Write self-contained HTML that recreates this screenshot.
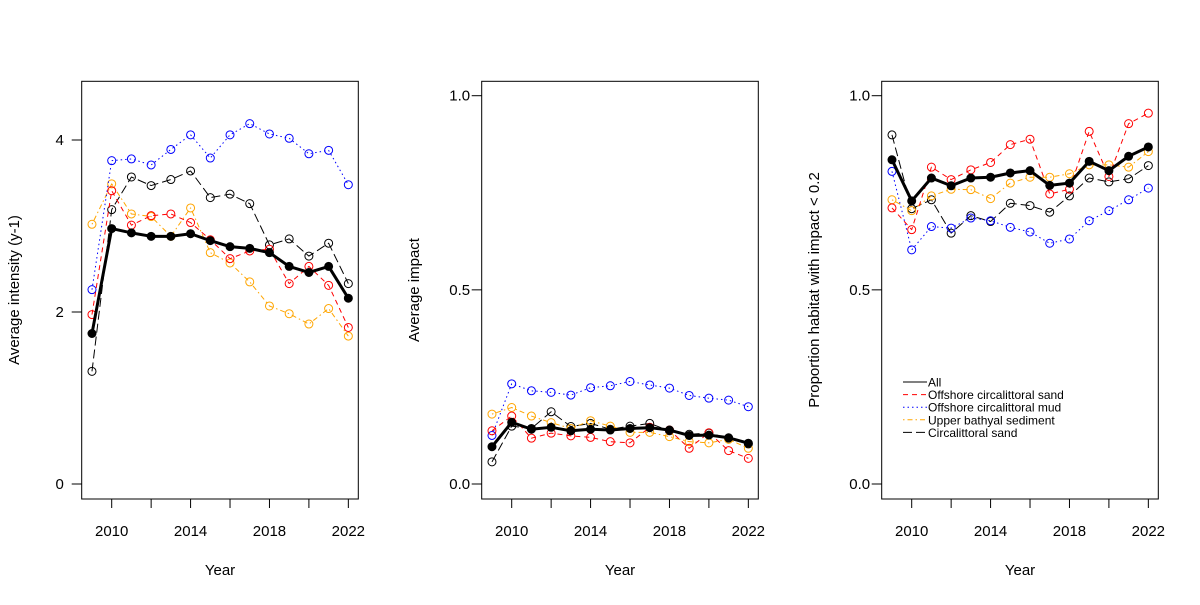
<!DOCTYPE html>
<html><head><meta charset="utf-8"><style>
body{margin:0;background:#fff}
svg text{font-family:"Liberation Sans",Arial,sans-serif;fill:#000}
</style></head><body>
<svg id="chart" width="1200" height="600" viewBox="0 0 1200 600" xmlns="http://www.w3.org/2000/svg"></svg>
<script>
const years=[2009,2010,2011,2012,2013,2014,2015,2016,2017,2018,2019,2020,2021,2022];
const xTicks=[2010,2012,2014,2016,2018,2020,2022];
const xTickLabels=["2010","","2014","","2018","","2022"];
const seriesNames=["All","Offshore circalittoral sand","Offshore circalittoral mud","Upper bathyal sediment","Circalittoral sand"];
// Panel 1: intensity
const p1All=[1.75,2.97,2.92,2.88,2.88,2.91,2.83,2.76,2.74,2.69,2.53,2.46,2.53,2.16];
const p1Sand=[1.97,3.41,3.01,3.12,3.14,3.04,2.84,2.62,2.71,2.73,2.33,2.53,2.31,1.82];
const p1Mud=[2.26,3.76,3.78,3.71,3.89,4.06,3.79,4.06,4.19,4.07,4.02,3.84,3.88,3.48];
const p1Bathyal=[3.02,3.49,3.14,3.11,2.88,3.21,2.69,2.57,2.35,2.07,1.98,1.86,2.04,1.72];
const p1Circ=[1.31,3.19,3.57,3.47,3.54,3.64,3.33,3.37,3.26,2.78,2.85,2.65,2.80,2.33];
const p1YTicks=[0,2,4];
// Panel 2: impact
const p2All=[0.096,0.159,0.141,0.146,0.137,0.141,0.139,0.143,0.145,0.139,0.125,0.126,0.119,0.105];
const p2Sand=[0.137,0.175,0.118,0.131,0.124,0.120,0.109,0.106,0.146,0.139,0.092,0.132,0.086,0.066];
const p2Mud=[0.125,0.258,0.240,0.236,0.229,0.248,0.253,0.264,0.255,0.247,0.228,0.221,0.216,0.199];
const p2Bathyal=[0.180,0.197,0.175,0.158,0.143,0.163,0.149,0.133,0.133,0.122,0.109,0.106,0.115,0.092];
const p2Circ=[0.057,0.149,0.143,0.186,0.148,0.156,0.141,0.149,0.156,0.137,0.128,0.131,0.118,0.103];
const p2YTicks=[0,0.5,1.0];
const p2YTickLabels=["0.0","0.5","1.0"];
// Panel 3: proportion
const p3All=[0.835,0.729,0.788,0.768,0.788,0.790,0.801,0.807,0.769,0.775,0.831,0.807,0.844,0.868];
const p3Sand=[0.711,0.655,0.816,0.784,0.809,0.828,0.874,0.888,0.747,0.759,0.908,0.792,0.928,0.955];
const p3Mud=[0.805,0.603,0.663,0.659,0.685,0.678,0.661,0.649,0.620,0.631,0.678,0.704,0.732,0.762];
const p3Bathyal=[0.732,0.704,0.742,0.759,0.758,0.735,0.775,0.790,0.790,0.799,0.822,0.822,0.816,0.856];
const p3Circ=[0.899,0.709,0.732,0.646,0.691,0.676,0.723,0.717,0.700,0.742,0.788,0.778,0.786,0.820];

const NS="http://www.w3.org/2000/svg";
const svg=document.getElementById('chart');
function mk(tag,attrs,parent){const e=document.createElementNS(NS,tag);for(const k in attrs)e.setAttribute(k,attrs[k]);(parent||svg).appendChild(e);return e;}
const styles=[
 {color:"#000",w:3,dash:"",fill:"#000",r:4},
 {color:"#ff0000",w:1,dash:"5,4",fill:"none",r:4},
 {color:"#0000ff",w:1,dash:"1.5,3",fill:"none",r:4},
 {color:"#ffa500",w:1,dash:"1.5,3,5,3",fill:"none",r:4},
 {color:"#000",w:1,dash:"9,4",fill:"none",r:4}
];
function panel(off,yMin,yScale,data,yTicks,yLabels,ylab,name){
  const g=mk('g',{});
  
  
  const L=81.7+off,R=358.3+off,T=81.3,B=499;
  const x=v=>111.7+off+(v-2010)*19.72;
  const y=v=>484-v*yScale;
  const box=mk('rect',{x:L,y:T,width:R-L,height:B-T,fill:'none',stroke:'#000','stroke-width':1},g);
  
  
  xTicks.forEach((t,i)=>{
    mk('line',{x1:x(t),x2:x(t),y1:B,y2:B+9,stroke:'#000'},g);
    if(xTickLabels[i]){const tx=mk('text',{x:x(t),y:536,'text-anchor':'middle','font-size':15},g);tx.textContent=xTickLabels[i];
      }
  });
  yTicks.forEach((t,i)=>{
    mk('line',{x1:L-10,x2:L,y1:y(t),y2:y(t),stroke:'#000'},g);
    const tx=mk('text',{x:L-22,y:y(t)+5,'text-anchor':'middle','font-size':15},g);tx.textContent=yLabels[i];
    
  });
  const xt=mk('text',{x:(L+R)/2,y:575,'text-anchor':'middle','font-size':15},g);xt.textContent='Year';
  
  const yt=mk('text',{x:0,y:0,'text-anchor':'middle','font-size':15,transform:`translate(${off+19},290) rotate(-90)`},g);yt.textContent=ylab;
  
  for(let s=data.length-1;s>=0;s--){
    const st=styles[s],vals=data[s];
    const pl=mk('polyline',{points:vals.map((v,i)=>x(years[i])+','+y(v)).join(' '),fill:'none',stroke:st.color,'stroke-width':st.w,'stroke-dasharray':st.dash,'stroke-linejoin':'round'},g);
    
    vals.forEach((v,i)=>{const c=mk('circle',{cx:x(years[i]),cy:y(v),r:st.r,fill:st.fill,stroke:st.color,'stroke-width':1},g);
      });
  }
  return g;
}
panel(0,0,86,[p1All,p1Sand,p1Mud,p1Bathyal,p1Circ],p1YTicks,["0","2","4"],"Average intensity (y-1)","panel-intensity");
panel(400,0,388.3,[p2All,p2Sand,p2Mud,p2Bathyal,p2Circ],p2YTicks,p2YTickLabels,"Average impact","panel-impact");
const g3=panel(800,0,388.3,[p3All,p3Sand,p3Mud,p3Bathyal,p3Circ],p2YTicks,p2YTickLabels,"Proportion habitat with impact < 0.2","panel-proportion");
const lg=mk('g',{});


seriesNames.forEach((n,i)=>{
  const yy=382+i*12.6;const st=styles[i];
  mk('line',{x1:903,x2:927,y1:yy,y2:yy,stroke:st.color,'stroke-width':1,'stroke-dasharray':st.dash},lg);
  const t=mk('text',{x:928,y:yy+4.5,'font-size':12},lg);t.textContent=n;
  
});
</script>
</body></html>
